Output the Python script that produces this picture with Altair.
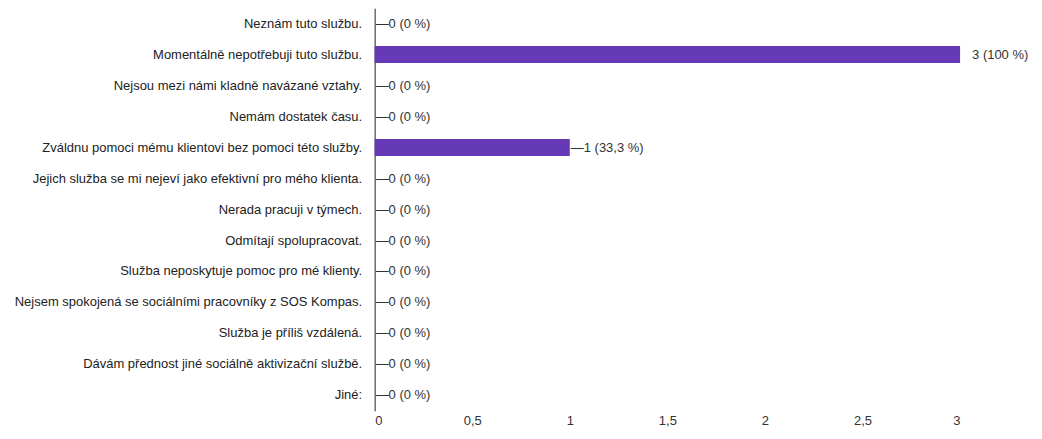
import altair as alt
import pandas as pd

categories = [
    "Neznám tuto službu.",
    "Momentálně nepotřebuji tuto službu.",
    "Nejsou mezi námi kladně navázané vztahy.",
    "Nemám dostatek času.",
    "Zváldnu pomoci mému klientovi bez pomoci této služby.",
    "Jejich služba se mi nejeví jako efektivní pro mého klienta.",
    "Nerada pracuji v týmech.",
    "Odmítají spolupracovat.",
    "Služba neposkytuje pomoc pro mé klienty.",
    "Nejsem spokojená se sociálními pracovníky z SOS Kompas.",
    "Služba je příliš vzdálená.",
    "Dávám přednost jiné sociálně aktivizační službě.",
    "Jiné:",
]
values = [0, 3, 0, 0, 1, 0, 0, 0, 0, 0, 0, 0, 0]
labels = [
    "—0 (0 %)", "3 (100 %)", "—0 (0 %)", "—0 (0 %)", "—1 (33,3 %)",
    "—0 (0 %)", "—0 (0 %)", "—0 (0 %)", "—0 (0 %)", "—0 (0 %)",
    "—0 (0 %)", "—0 (0 %)", "—0 (0 %)",
]
x_ticks = [0, 0.5, 1, 1.5, 2, 2.5, 3]

df = pd.DataFrame({"category": categories, "value": values, "label": labels})
vmax = max(values)

FONT = "Liberation Sans"
FS = 13

y_enc = alt.Y(
    "category:N",
    sort=categories,
    scale=alt.Scale(paddingInner=0.45, paddingOuter=0.22),
    axis=alt.Axis(
        title=None, ticks=False, domain=True, domainColor="#222", domainWidth=1,
        labelFont=FONT, labelFontSize=FS, labelColor="#222", labelPadding=13,
        labelLimit=600,
    ),
)
x_enc = alt.X(
    "value:Q",
    scale=alt.Scale(domain=[0, 3], nice=False),
    axis=alt.Axis(
        title=None, values=x_ticks, grid=False, ticks=False, domain=False,
        labelFont=FONT, labelFontSize=FS, labelColor="#333", labelPadding=4,
        labelExpr="replace(format(datum.value, '~g'), '.', ',')",
    ),
)

bars = alt.Chart(df).mark_bar(color="#6639b6").encode(y=y_enc, x=x_enc)

text_other = alt.Chart(df).transform_filter(alt.datum.value < vmax).mark_text(
    align="left", baseline="middle", dx=1, font=FONT, fontSize=FS, color="#333"
).encode(y=alt.Y("category:N", sort=categories), x="value:Q", text="label:N")

text_max = alt.Chart(df).transform_filter(alt.datum.value >= vmax).mark_text(
    align="left", baseline="middle", dx=12, font=FONT, fontSize=FS, color="#333"
).encode(y=alt.Y("category:N", sort=categories), x="value:Q", text="label:N")

chart = alt.layer(bars, text_other, text_max).properties(
    width=586, height=403,
    padding={"left": 5, "top": 0, "right": 5, "bottom": 5},
    background="white",
).configure_view(stroke=None)

chart.save("out.html", embed_options={"renderer": "svg", "actions": False})
